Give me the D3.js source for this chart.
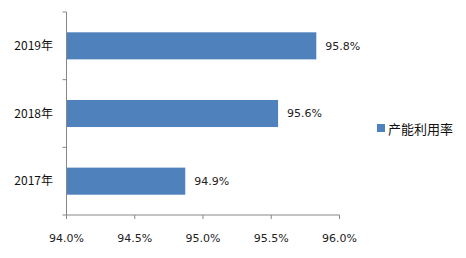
<!DOCTYPE html>
<html><head><meta charset="utf-8">
<script src="https://cdn.jsdelivr.net/npm/d3@7"></script>
<style>body{margin:0;background:#fff;}svg{display:block;font-family:"Noto Sans CJK SC","Liberation Sans",sans-serif;}</style>
</head><body>
<script>
const categories = ["2019年", "2018年", "2017年"];
const values = [95.83, 95.55, 94.87];
const valueLabels = ["95.8%", "95.6%", "94.9%"];
const xTicks = [94.0, 94.5, 95.0, 95.5, 96.0];
const seriesName = "产能利用率";

(function () {
const W = 466, H = 258;
const svg = d3.select("body").append("svg").attr("width", W).attr("height", H);
const mLeft = 66.5, mRight = 339.5, mTop = 12, mBottom = 215;
const x = d3.scaleLinear().domain([94, 96]).range([mLeft, mRight]);
const y = d3.scaleBand().domain(categories).range([mTop, mBottom]).paddingInner(0.6).paddingOuter(0.3);
const axisColor = "#878787";

svg.selectAll("rect.bar").data(values).enter().append("rect")
  .attr("x", x(94)).attr("y", (d, i) => y(categories[i]))
  .attr("width", d => x(d) - x(94)).attr("height", y.bandwidth())
  .attr("fill", "#4F81BD");

svg.selectAll("text.val").data(values).enter().append("text")
  .attr("x", d => x(d) + 9).attr("y", (d, i) => y(categories[i]) + y.bandwidth() / 2)
  .attr("dy", "0.35em").attr("font-size", 11).attr("fill", "#222")
  .attr("font-family", "'DejaVu Sans',sans-serif")
  .text((d, i) => valueLabels[i]);

const yStep = (mBottom - mTop) / categories.length;
const g = svg.append("g");
g.append("line").attr("x1", mLeft).attr("x2", mLeft).attr("y1", mTop).attr("y2", mBottom).attr("stroke", axisColor);
for (let i = 0; i <= categories.length; i++) {
  g.append("line").attr("x1", mLeft - 4).attr("x2", mLeft).attr("y1", mTop + i * yStep).attr("y2", mTop + i * yStep).attr("stroke", axisColor);
}
categories.forEach(c => {
  g.append("text").attr("x", 53).attr("y", y(c) + y.bandwidth() / 2).attr("dy", "0.35em")
    .attr("text-anchor", "end").attr("font-size", 12).attr("fill", "#111").text(c);
});

g.append("line").attr("x1", mLeft).attr("x2", mRight).attr("y1", mBottom).attr("y2", mBottom).attr("stroke", axisColor);
xTicks.forEach(t => {
  g.append("line").attr("x1", x(t)).attr("x2", x(t)).attr("y1", mBottom).attr("y2", mBottom + 4).attr("stroke", axisColor);
  g.append("text").attr("x", x(t)).attr("y", 238).attr("dy", "0.35em").attr("text-anchor", "middle")
    .attr("font-size", 11).attr("fill", "#222").attr("font-family", "'DejaVu Sans',sans-serif")
    .text(t.toFixed(1) + "%");
});

svg.append("rect").attr("x", 377).attr("y", 124).attr("width", 8).attr("height", 8).attr("fill", "#4F81BD");
svg.append("text").attr("x", 388).attr("y", 129).attr("dy", "0.35em").attr("font-size", 13).attr("fill", "#111").text(seriesName);
})();
</script>
</body></html>
